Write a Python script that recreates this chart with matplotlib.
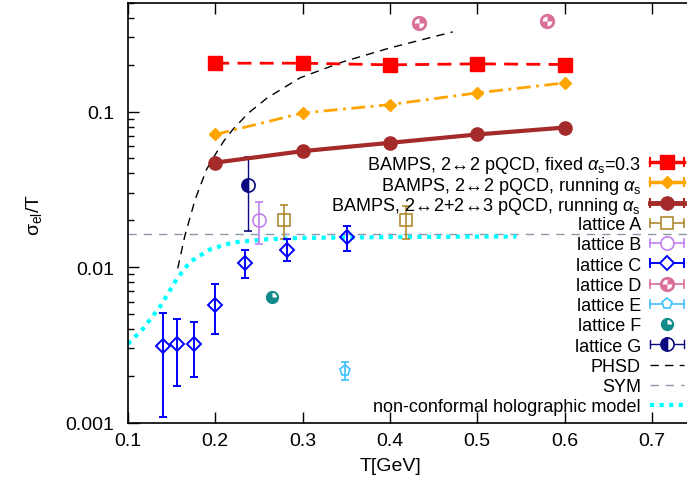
import numpy as np
import matplotlib
matplotlib.use("Agg")
import matplotlib.pyplot as plt
from matplotlib.lines import Line2D
from matplotlib.path import Path

plt.rcParams["font.family"] = ["Liberation Sans", "DejaVu Sans"]
plt.rcParams["font.size"] = 13
plt.rcParams["mathtext.fontset"] = "custom"
plt.rcParams["mathtext.rm"] = "Liberation Sans"
plt.rcParams["mathtext.it"] = "Liberation Sans:italic"

# BAMPS results
bamps_T = [0.2, 0.3, 0.4, 0.5, 0.6]
fixed_as = [0.205, 0.205, 0.200, 0.203, 0.201]
running_as = [0.0713, 0.098, 0.111, 0.132, 0.153]
running_23 = [0.047, 0.0557, 0.063, 0.0713, 0.079]

# lattice data: T, value, lower end, upper end
latA_T = [0.279, 0.418]
latA_y = [0.020, 0.020]
latA_lo = [0.0151, 0.0151]
latA_hi = [0.025, 0.0246]

latB_T = [0.250]
latB_y = [0.020]
latB_lo = [0.014]
latB_hi = [0.0261]

latC_T = [0.14, 0.156, 0.176, 0.2, 0.234, 0.282, 0.351]
latC_y = [0.0031, 0.0032, 0.0032, 0.0057, 0.0106, 0.0129, 0.0156]
latC_lo = [0.00108, 0.00173, 0.00197, 0.0037, 0.0085, 0.011, 0.0127]
latC_hi = [0.0051, 0.00465, 0.0044, 0.0078, 0.0128, 0.0151, 0.0183]

latD_T = [0.433, 0.58]
latD_y = [0.372, 0.383]

latE_T = [0.349]
latE_y = [0.00216]
latE_lo = [0.00189]
latE_hi = [0.00246]

latF_T = [0.265]
latF_y = [0.0064]

latG_T = [0.237]
latG_y = [0.0336]
latG_lo = [0.017]
latG_hi = [0.0507]

# model curves
phsd_T = [0.157, 0.165, 0.177, 0.190, 0.200, 0.210, 0.220, 0.238, 0.259, 0.297, 0.346, 0.400, 0.472]
phsd_y = [0.0098, 0.0158, 0.0273, 0.0425, 0.053, 0.065, 0.0767, 0.098, 0.122, 0.165, 0.209, 0.257, 0.326]

sym_y = 0.0163

holo_T = [0.1, 0.117, 0.137, 0.156, 0.171, 0.194, 0.22, 0.259, 0.3, 0.4, 0.5, 0.545]
holo_y = [0.0032, 0.004, 0.0056, 0.0084, 0.0108, 0.013, 0.0144, 0.0151, 0.0154, 0.0156, 0.0157, 0.0157]

c_red = "#ff0000"
c_orange = "#ffa500"
c_brown = "#a52a2a"
c_A = "#b08a30"
c_B = "#c080f0"
c_C = "#0000ff"
c_D = "#d8709a"
c_E = "#40c0ff"
c_F = "#108a8a"
c_G = "#0a0a80"
c_sym = "#8e96a8"
c_holo = "#00ffff"

W, H = 687, 485
fig = plt.figure(figsize=(W / 100, H / 100), dpi=100)
ax = fig.add_axes([128 / W, 1 - 423.5 / H, 1 - 128 / W, (423.5 - 4) / H])


def errs(y, lo, hi):
    y = np.array(y)
    return [y - np.array(lo), np.array(hi) - y]


wedge_ul = Path.wedge(90, 180)
wedge_lr = Path.wedge(270, 360)
wedge_ur = Path.wedge(0, 90)

# model curves
ax.plot(holo_T, holo_y, color=c_holo, lw=3, linestyle=(0, (1, 1.3)), zorder=2)
ax.axhline(sym_y, color=c_sym, lw=1, linestyle=(0, (6, 5)), zorder=1)
ax.plot(phsd_T, phsd_y, color="black", lw=1, linestyle=(0, (6, 4.5)), zorder=2)

# BAMPS
ax.plot(bamps_T, fixed_as, color=c_red, lw=2, linestyle=(0, (5, 3)),
        marker="s", ms=9.5, zorder=4)
ax.plot(bamps_T, running_as, color=c_orange, lw=2, linestyle=(0, (5, 2, 1, 2)),
        marker="D", ms=6.5, zorder=4)
ax.plot(bamps_T, running_23, color=c_brown, lw=3, marker="o", ms=9.5, zorder=4)

# lattice
ax.errorbar(latA_T, latA_y, yerr=errs(latA_y, latA_lo, latA_hi), fmt="s", ms=9,
            mfc="none", mec=c_A, mew=1.2, ecolor=c_A, elinewidth=1.2, capsize=3, zorder=3)
ax.errorbar(latB_T, latB_y, yerr=errs(latB_y, latB_lo, latB_hi), fmt="o", ms=9.5,
            mfc="none", mec=c_B, mew=1.2, ecolor=c_B, elinewidth=1.2, capsize=3, zorder=3)
ax.errorbar(latC_T, latC_y, yerr=errs(latC_y, latC_lo, latC_hi), fmt="D", ms=7,
            mfc="none", mec=c_C, mew=1.4, ecolor=c_C, elinewidth=1.4, capsize=3, zorder=3)
ax.plot(latD_T, latD_y, "o", ms=10, color=c_D, zorder=3)
ax.plot(latD_T, latD_y, marker=wedge_ul, ls="none", ms=7, color="white", mew=0, zorder=3)
ax.plot(latD_T, latD_y, marker=wedge_lr, ls="none", ms=7, color="white", mew=0, zorder=3)
ax.errorbar(latE_T, latE_y, yerr=errs(latE_y, latE_lo, latE_hi), fmt="p", ms=8,
            mfc="none", mec=c_E, mew=1.2, ecolor=c_E, elinewidth=1.2, capsize=3, zorder=3)
ax.plot(latF_T, latF_y, "o", ms=8.5, color=c_F, zorder=3)
ax.plot(latF_T, latF_y, marker=wedge_ur, ls="none", ms=6.5, color="white", mew=0, zorder=3)
ax.errorbar(latG_T, latG_y, yerr=errs(latG_y, latG_lo, latG_hi), fmt="o", ms=9.5,
            fillstyle="left", mfc=c_G, mfcalt="white", mec=c_G, mew=1.2,
            ecolor=c_G, elinewidth=1, capsize=3, zorder=3)

ax.set_yscale("log")
ax.set_xlim(0.1, 0.1 + (W - 128) / 873)
ax.set_ylim(0.001, 0.5)
ax.set_xticks([0.1, 0.2, 0.3, 0.4, 0.5, 0.6, 0.7])
ax.set_xticklabels(["0.1", "0.2", "0.3", "0.4", "0.5", "0.6", "0.7"])
ax.set_yticks([0.001, 0.01, 0.1])
ax.set_yticklabels(["0.001", "0.01", "0.1"])
ax.tick_params(which="both", direction="in", top=True, right=False, width=1, labelsize=14)
ax.tick_params(which="major", length=8)
ax.tick_params(which="minor", length=4)
ax.tick_params(axis="x", pad=7)
ax.tick_params(axis="y", pad=10)
ax.xaxis.set_minor_locator(matplotlib.ticker.NullLocator())
ax.spines["right"].set_visible(False)
for s in ["left", "bottom", "top"]:
    ax.spines[s].set_linewidth(1.2)

fig.text(34 / W, 1 - 215 / H, "σ$_{\\rm el}$/T", rotation=90, ha="center", va="center",
         fontsize=14)
fig.text(390 / W, 1 - 467 / H, "T[GeV]", ha="center", va="center", fontsize=14)

# key, drawn by hand in gnuplot style (text right, sample on the right)
arr = "$\\!\\leftrightarrow\\!$"
labels = [
    f"BAMPS, 2{arr}2 pQCD, fixed $\\alpha_{{\\rm s}}$=0.3",
    f"BAMPS, 2{arr}2 pQCD, running $\\alpha_{{\\rm s}}$",
    f"BAMPS, 2{arr}2+2{arr}3 pQCD, running $\\alpha_{{\\rm s}}$",
    "lattice A", "lattice B", "lattice C", "lattice D", "lattice E",
    "lattice F", "lattice G", "PHSD", "SYM", "non-conformal holographic model",
]
styles = [
    dict(c=c_red, lw=2.5, m="s", ms=9.5, fill=True, bar=True),
    dict(c=c_orange, lw=2.5, m="D", ms=6.5, fill=True, bar=True),
    dict(c=c_brown, lw=3.5, m="o", ms=9.5, fill=True, bar=True),
    dict(c=c_A, lw=1.2, m="s", ms=9, fill=False, bar=True),
    dict(c=c_B, lw=1.2, m="o", ms=9.5, fill=False, bar=True),
    dict(c=c_C, lw=1.4, m="D", ms=7, fill=False, bar=True),
    dict(c=c_D, lw=1.2, m="o", ms=10, fill=True, bar=True, extra=[wedge_ul, wedge_lr]),
    dict(c=c_E, lw=1.2, m="p", ms=8, fill=False, bar=True),
    dict(c=c_F, lw=0, m="o", ms=8.5, fill=True, bar=False, extra=[wedge_ur]),
    dict(c=c_G, lw=1, m="o", ms=9.5, fill="left", bar=True),
    dict(c="black", lw=1, ls=(0, (6, 4.5))),
    dict(c=c_sym, lw=1, ls=(0, (6, 5))),
    dict(c=c_holo, lw=3, ls=(0, (1, 1.3))),
]


def fx(px):
    return px / W


def fy(py):
    return 1 - py / H


x0, x1, xm = 650, 684, 667
for i, (lab, st) in enumerate(zip(labels, styles)):
    yp = 163 + 20.25 * i
    fig.text(fx(641), fy(yp), lab, ha="right", va="center_baseline")
    if "m" not in st:
        fig.add_artist(Line2D([fx(x0), fx(x1)], [fy(yp), fy(yp)], color=st["c"],
                              lw=st["lw"], linestyle=st["ls"]))
        continue
    if st["bar"]:
        fig.add_artist(Line2D([fx(x0), fx(x1)], [fy(yp), fy(yp)], color=st["c"], lw=st["lw"]))
        for xe in (x0, x1):
            fig.add_artist(Line2D([fx(xe), fx(xe)], [fy(yp - 4), fy(yp + 4)],
                                  color=st["c"], lw=min(st["lw"], 1.5)))
    kw = dict(marker=st["m"], ms=st["ms"], color=st["c"], mec=st["c"], ls="none")
    if st["fill"] is False:
        kw.update(mfc="white", mew=st["lw"])
    elif st["fill"] == "left":
        kw.update(fillstyle="left", mfc=st["c"], mfcalt="white", mew=1.2)
    fig.add_artist(Line2D([fx(xm)], [fy(yp)], **kw))
    for wp in st.get("extra", []):
        fig.add_artist(Line2D([fx(xm)], [fy(yp)], marker=wp, ms=7 if st["c"] == c_D else 6.5,
                              color="white", mew=0, ls="none"))

fig.savefig("out.png", dpi=100)
